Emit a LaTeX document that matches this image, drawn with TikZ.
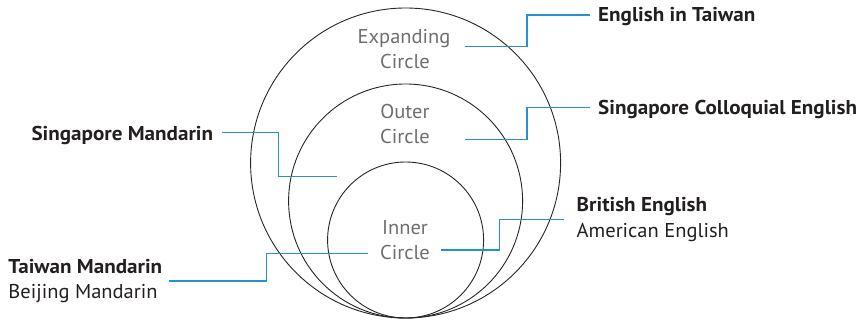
\documentclass[tikz,border=0pt]{standalone}
\usepackage{fontspec}
\setmainfont{PT Sans}
\newfontfamily\regf{PT Sans}[FakeStretch=1.025]
\newfontfamily\boldf{PT Sans}[FakeStretch=1.055]
\definecolor{txt}{HTML}{231F20}
\definecolor{gtxt}{HTML}{6D6E71}
\definecolor{lblue}{HTML}{2A8FCF}
\begin{document}
\begin{tikzpicture}[x=1pt,y=-1pt,
  ring/.style={draw=black!85, line width=0.9pt},
  conn/.style={draw=lblue, line width=1.4pt},
  bold/.style={inner sep=0pt, font=\boldf\fontsize{20}{24}\selectfont\bfseries, text=txt},
  reg/.style={inner sep=0pt, font=\regf\fontsize{20}{24}\selectfont, text=txt},
  clbl/.style={inner sep=0pt, anchor=base, font=\regf\fontsize{20}{24}\selectfont, text=gtxt}]
\useasboundingbox (0,0) rectangle (863,320);
% circles
\draw[ring] (405.6,163) circle[radius=155];
\draw[ring] (405.6,201) circle[radius=117];
\draw[ring] (405.6,240) circle[radius=78];
% circle labels
\node[clbl] (ex1) at (404,43.5) {Expanding};
\node[clbl] (ex2) at (405,68.3) {Circle};
\node[clbl] (ou1) at (405,119) {Outer};
\node[clbl] (ou2) at (405,144) {Circle};
\node[clbl] (in1) at (405,235) {Inner};
\node[clbl] (in2) at (405,260) {Circle};
% labels
\node[bold, anchor=base west] (ET) at (598,21.7) {English in Taiwan};
\node[bold, anchor=base west] (SCE) at (598,115) {Singapore Colloquial English};
\node[bold, anchor=base west] (BE) at (576.5,211.7) {British English};
\node[reg, anchor=base west] (AE) at (576.5,237.5) {American English};
\node[bold, anchor=base east] (SM) at (213.3,140.7) {Singapore Mandarin};
\node[bold, anchor=base west] (TM) at (8.3,273.3) {Taiwan Mandarin};
\node[reg, anchor=base west] (BM) at (8.3,298.3) {Beijing Mandarin};
% connector start points
\coordinate (c1) at (465,46.7);
\coordinate (c2) at (465,139.3);
\coordinate (c3) at (441,250);
\coordinate (c4) at (336.7,176.7);
\coordinate (c5) at (368.3,253.3);
% connectors
\draw[conn] (c1) -- ++(62,0) |- ([xshift=-8pt,yshift=6.7pt]ET.base west);
\draw[conn] (c2) -- ++(62,0) |- ([xshift=-8pt,yshift=7.3pt]SCE.base west);
\draw[conn] (c3) -- ++(58.3,0) |- ([xshift=-12.5pt,yshift=-7.6pt]BE.base west);
\draw[conn] (c4) -- ++(-58.4,0) |- ([xshift=9pt,yshift=8.4pt]SM.base east);
\draw[conn] (c5) -- ++(-101.6,0) |- ([xshift=7pt,yshift=-7.7pt]TM.base east);
\end{tikzpicture}
\end{document}
